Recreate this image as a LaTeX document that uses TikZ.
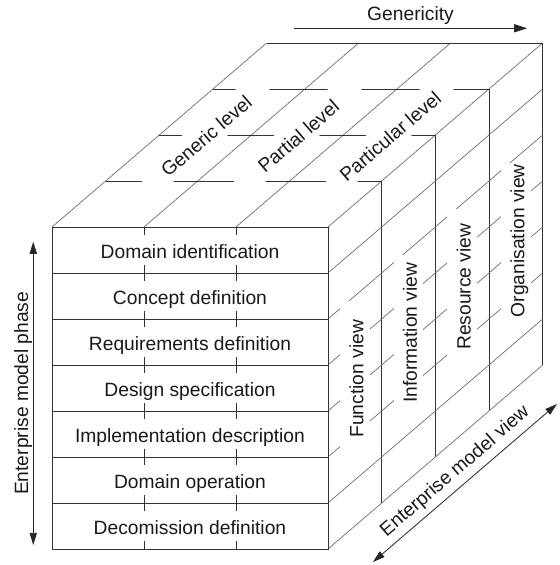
\documentclass[tikz,border=0pt]{standalone}
\usepackage{fontspec}
\setmainfont{Liberation Sans}
\usetikzlibrary{arrows.meta,calc,positioning}

\begin{document}
\begin{tikzpicture}[x=1cm, y=1cm,
    every node/.style={font=\fontsize{11.9}{14}\selectfont, text=black!90},
    edge/.style={black!80, line width=0.55pt},
    slant/.style={black!60, line width=0.4pt},
    tag/.style={fill=white, inner sep=0pt, minimum width=3.4cm, minimum height=0.64cm,
        text height=1.1em, text depth=0.05em},
    axis/.style={black!85, line width=0.5pt}]
    \useasboundingbox (-1.13,-0.348) rectangle (11.043,11.935);
    % Depth of one view slice
    \def\dx{1.16667}
    % Top face: level strips
    \foreach \x in {0,2,4,6} {
        \draw[slant] (\x,7) -- ++(4.66667,4);
    }
    \draw[edge] (4.66667,11) -- (10.66667,11);
    % View slices: line across the top, then down the right face
    \foreach \k in {1,2,3} {
        \draw[edge] (\k*\dx,7+\k) -- (6+\k*\dx,7+\k) -- (6+\k*\dx,\k);
    }
    \draw[edge] (10.66667,11) -- (10.66667,4);
    % Right face: phases in depth
    \foreach \y in {0,...,6} {
        \draw[slant] (6,\y) -- ++(4.66667,4);
    }
    % Front face
    \draw[edge] (0,0) rectangle (6,7);
    \foreach \y in {1,...,6} {
        \draw[edge] (0,\y) -- (6,\y);
    }
    \draw[edge] (2,0) -- (2,7) (4,0) -- (4,7);
    % Phase names
    \foreach \t [count=\i] in {Domain identification, Concept definition,
        Requirements definition, Design specification, Implementation description,
        Domain operation, Decomission definition} {
        \node[tag] (phase\i) at (3,7.5-\i) {\t};
    }
    % Level names
    \foreach \t/\x [count=\i] in {Generic level/1, Partial level/3, Particular level/5} {
        \node[tag, rotate=40.6] (level\i) at (\x+2.33333,9) {\t};
    }
    % View names
    \foreach \t [count=\i] in {Function view, Information view, Resource view, Organisation view} {
        \node[tag, rotate=90] (view\i) at (6+\i*\dx-\dx/2,2.7+\i) {\t};
    }
    % Axes
    \coordinate (gen start) at (5.26,11.32);
    \coordinate (gen end) at (10.33,11.32);
    \draw[axis, -{Triangle[length=8pt,width=5pt]}] (gen start) -- node[above, inner sep=2pt] (genericity) {Genericity} (gen end);
    \coordinate (phase low) at (-0.407,0.087);
    \coordinate (phase high) at (-0.407,6.68);
    \draw[axis, {Triangle[length=7.5pt,width=4.5pt]}-{Triangle[length=7.5pt,width=4.5pt]}] (phase low) -- node[sloped, above, inner sep=0.5pt] (phase axis) {Enterprise model phase} (phase high);
    \coordinate (view near) at (6.978,-0.283);
    \coordinate (view far) at (10.978,3.152);
    \draw[axis, {Triangle[length=7.5pt,width=4.5pt]}-{Triangle[length=7.5pt,width=4.5pt]}] (view near) -- node[sloped, above, inner sep=3.5pt] (view axis) {Enterprise model view} (view far);
\end{tikzpicture}
\end{document}
